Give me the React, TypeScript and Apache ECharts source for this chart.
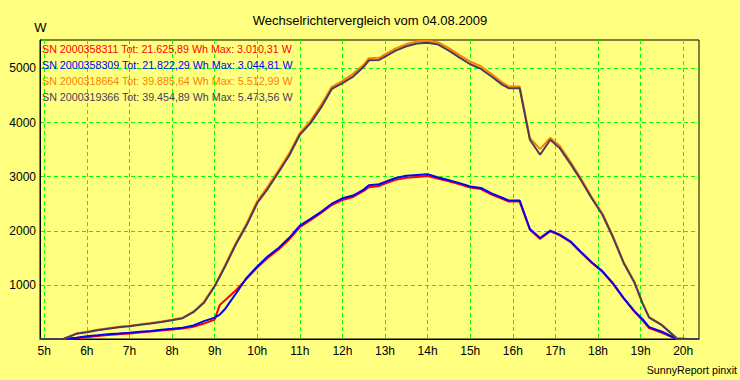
import React, { useEffect, useRef } from "react";
import * as echarts from "echarts";

const titleText = "Wechselrichtervergleich vom 04.08.2009";
const unitText = "W";
const footerText = "SunnyReport pinxit";

const hourLabels = ["5h", "6h", "7h", "8h", "9h", "10h", "11h", "12h", "13h", "14h", "15h", "16h", "17h", "18h", "19h", "20h"];

const seriesNames = ["SN 2000358311", "SN 2000358309", "SN 2000318664", "SN 2000319366"];
const seriesTotals = ["21.625,89", "21.822,29", "39.885,64", "39.454,89"];
const seriesMaxes = ["3.010,31", "3.044,81", "5.512,99", "5.473,56"];
const seriesColors = ["#FF0000", "#0000FF", "#FF8000", "#4B3A5A"];

const hours = [
  4.9, 5, 5.25, 5.45, 5.75, 6, 6.25, 6.5, 6.75, 7,
  7.25, 7.5, 7.75, 8, 8.25, 8.5, 8.75, 9, 9.12, 9.25,
  9.5, 9.75, 10, 10.25, 10.5, 10.75, 11, 11.25, 11.5, 11.75,
  12, 12.25, 12.5, 12.62, 12.86, 13, 13.25, 13.5, 13.75, 14,
  14.25, 14.5, 14.75, 15, 15.25, 15.5, 15.75, 15.9, 16.16, 16.4,
  16.64, 16.88, 17.1, 17.35, 17.6, 17.85, 18.1, 18.35, 18.6, 18.85,
  19.05, 19.2, 19.5, 19.85, 20.1, 20.37,
];

const red = [
  0, 0, 0, 0, 15, 33, 55, 75, 90, 101,
  120, 138, 158, 175, 195, 225, 285, 360, 630, 720,
  900, 1110, 1320, 1500, 1655, 1840, 2065, 2195, 2330, 2475,
  2570, 2625, 2735, 2805, 2825, 2870, 2940, 2980, 2995, 3010,
  2960, 2915, 2860, 2800, 2770, 2670, 2590, 2540, 2540, 2020,
  1850, 1990, 1915, 1795, 1595, 1410, 1245, 1020, 750, 505,
  340, 200, 115, 0, 0, 0,
];

const blue = [
  0, 0, 0, 0, 25, 52, 70, 90, 100, 114,
  135, 150, 170, 188, 210, 249, 330, 395, 450, 560,
  840, 1130, 1340, 1530, 1680, 1870, 2094, 2220, 2350, 2500,
  2600, 2650, 2760, 2840, 2860, 2900, 2975, 3015, 3030, 3045,
  2985, 2935, 2880, 2819, 2790, 2690, 2610, 2561, 2561, 2033,
  1867, 2002, 1928, 1805, 1610, 1420, 1255, 1030, 760, 520,
  360, 220, 135, 0, 0, 0,
];

const orange = [
  0, 0, 0, 0, 100, 135, 170, 200, 225, 245,
  270, 295, 322, 355, 395, 505, 690, 990, 1170, 1375,
  1780, 2135, 2550, 2820, 3120, 3430, 3810, 4030, 4330, 4660,
  4770, 4900, 5070, 5190, 5195, 5260, 5370, 5450, 5500, 5513,
  5480, 5375, 5245, 5125, 5040, 4895, 4740, 4670, 4665, 3715,
  3509, 3720, 3570, 3280, 2965, 2630, 2325, 1905, 1425, 1065,
  655, 405, 260, 12, 0, 0,
];

const dark = [
  0, 0, 0, 0, 95, 125, 160, 190, 215, 236,
  262, 286, 315, 347, 385, 495, 670, 975, 1150, 1350,
  1750, 2100, 2513, 2780, 3080, 3390, 3773, 3990, 4280, 4620,
  4727, 4850, 5030, 5150, 5157, 5218, 5330, 5410, 5460, 5474,
  5440, 5330, 5200, 5077, 4990, 4850, 4700, 4634, 4634, 3681,
  3404, 3681, 3527, 3240, 2935, 2600, 2300, 1880, 1406, 1050,
  650, 395, 255, 10, 0, 0,
];

const seriesValues = [red, blue, orange, dark];

const FONT = '"Liberation Sans", Arial, sans-serif';

export default function App() {
  const ref = useRef<HTMLDivElement>(null);

  useEffect(() => {
    if (!ref.current) return;
    const chart = echarts.init(ref.current, undefined, { renderer: "svg" });

    const gridLine = { color: "#00FF00", width: 1, type: [4, 3] as any };

    const legendTexts = seriesNames.map((n, i) => ({
      type: "text",
      x: 42,
      y: 49 + i * 16,
      z: 10,
      style: {
        text: `${n} Tot: ${seriesTotals[i]} Wh Max: ${seriesMaxes[i]} W`,
        fill: seriesColors[i],
        font: `10.7px ${FONT}`,
        textAlign: "left",
        align: "left",
        textVerticalAlign: "middle",
        verticalAlign: "middle",
      },
    }));

    const option: any = {
      animation: false,
      backgroundColor: "#FFFF80",
      textStyle: { fontFamily: FONT },
      grid: [
        { left: 40, top: 40, width: 659, height: 299, show: true, borderColor: "#000", borderWidth: 1, backgroundColor: "transparent" },
        { left: 44.26, top: 40, width: 683.2 - 44.26, height: 299, show: false },
      ],
      xAxis: [
        {
          type: "value", gridIndex: 0, min: 4.9, max: 20.37,
          axisLine: { show: true, lineStyle: { color: "#000", width: 1 } },
          axisTick: { show: false }, axisLabel: { show: false }, splitLine: { show: false },
        },
        {
          type: "category", gridIndex: 1, data: hourLabels, boundaryGap: false,
          axisLine: { show: false }, axisTick: { show: false },
          axisLabel: { interval: 0, color: "#000", fontSize: 12, margin: 6, fontFamily: FONT },
          splitLine: { show: true, interval: 0, lineStyle: gridLine },
        },
      ],
      yAxis: [
        {
          type: "value", gridIndex: 0, min: 0, max: 5525, interval: 1000,
          axisLine: { show: true, lineStyle: { color: "#000", width: 1 } },
          axisTick: { show: false },
          axisLabel: {
            showMinLabel: false, showMaxLabel: false, color: "#000", fontSize: 12, margin: 4, fontFamily: FONT,
            formatter: (v: number) => String(v),
          },
          splitLine: { show: true, showMinLine: false, showMaxLine: false, lineStyle: gridLine },
        },
        { type: "value", gridIndex: 1, min: 0, max: 1, show: false },
      ],
      series: seriesValues.map((vals, i) => ({
        type: "line",
        name: seriesNames[i],
        xAxisIndex: 0,
        yAxisIndex: 0,
        data: hours.map((h, j) => [h, vals[j]]),
        showSymbol: false,
        symbol: "none",
        lineStyle: { color: seriesColors[i], width: 2 },
        itemStyle: { color: seriesColors[i] },
        z: 3 + i,
      })),
      graphic: [
        {
          type: "text", x: 370, y: 20,
          style: { text: titleText, fill: "#000", font: `13px ${FONT}`, textAlign: "center", align: "center", textVerticalAlign: "middle", verticalAlign: "middle" },
        },
        {
          type: "text", x: 40.5, y: 27,
          style: { text: unitText, fill: "#000", font: `13px ${FONT}`, textAlign: "center", align: "center", textVerticalAlign: "middle", verticalAlign: "middle" },
        },
        {
          type: "text", x: 737, y: 370,
          style: { text: footerText, fill: "#000", font: `10.7px ${FONT}`, textAlign: "right", align: "right", textVerticalAlign: "middle", verticalAlign: "middle" },
        },
        ...legendTexts,
      ],
    };

    chart.setOption(option);
    return () => chart.dispose();
  }, []);

  return <div ref={ref} style={{ position: "fixed", left: 0, top: 0, width: 740, height: 380 }} />;
}
